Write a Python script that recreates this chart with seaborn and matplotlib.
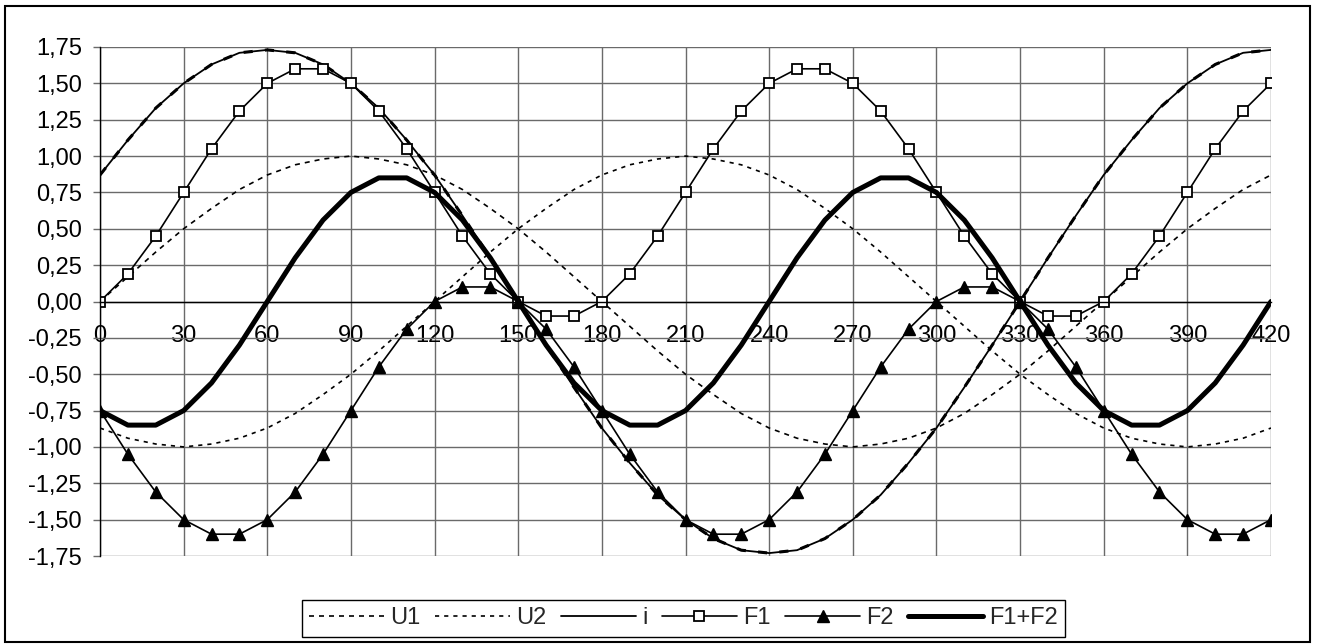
import matplotlib
matplotlib.use("Agg")
import matplotlib.pyplot as plt
from matplotlib.patches import Rectangle
import seaborn as sns

# ---------------- data ----------------
angle = [0, 10, 20, 30, 40, 50, 60, 70, 80, 90, 100, 110, 120, 130, 140, 150, 160,
         170, 180, 190, 200, 210, 220, 230, 240, 250, 260, 270, 280, 290, 300, 310,
         320, 330, 340, 350, 360, 370, 380, 390, 400, 410, 420]

U1 = [0.00, 0.17, 0.34, 0.50, 0.64, 0.77, 0.87, 0.94, 0.98, 1.00, 0.98, 0.94, 0.87,
      0.77, 0.64, 0.50, 0.34, 0.17, 0.00, -0.17, -0.34, -0.50, -0.64, -0.77, -0.87,
      -0.94, -0.98, -1.00, -0.98, -0.94, -0.87, -0.77, -0.64, -0.50, -0.34, -0.17,
      0.00, 0.17, 0.34, 0.50, 0.64, 0.77, 0.87]

U2 = [-0.87, -0.94, -0.98, -1.00, -0.98, -0.94, -0.87, -0.77, -0.64, -0.50, -0.34,
      -0.17, 0.00, 0.17, 0.34, 0.50, 0.64, 0.77, 0.87, 0.94, 0.98, 1.00, 0.98, 0.94,
      0.87, 0.77, 0.64, 0.50, 0.34, 0.17, 0.00, -0.17, -0.34, -0.50, -0.64, -0.77,
      -0.87, -0.94, -0.98, -1.00, -0.98, -0.94, -0.87]

I = [0.87, 1.11, 1.33, 1.50, 1.63, 1.71, 1.73, 1.71, 1.63, 1.50, 1.33, 1.11, 0.87,
     0.59, 0.30, 0.00, -0.30, -0.59, -0.87, -1.11, -1.33, -1.50, -1.63, -1.71, -1.73,
     -1.71, -1.63, -1.50, -1.33, -1.11, -0.87, -0.59, -0.30, 0.00, 0.30, 0.59, 0.87,
     1.11, 1.33, 1.50, 1.63, 1.71, 1.73]

F1 = [0.00, 0.19, 0.45, 0.75, 1.05, 1.31, 1.50, 1.60, 1.60, 1.50, 1.31, 1.05, 0.75,
      0.45, 0.19, 0.00, -0.10, -0.10, 0.00, 0.19, 0.45, 0.75, 1.05, 1.31, 1.50, 1.60,
      1.60, 1.50, 1.31, 1.05, 0.75, 0.45, 0.19, 0.00, -0.10, -0.10, 0.00, 0.19, 0.45,
      0.75, 1.05, 1.31, 1.50]

F2 = [-0.75, -1.05, -1.31, -1.50, -1.60, -1.60, -1.50, -1.31, -1.05, -0.75, -0.45,
      -0.19, 0.00, 0.10, 0.10, 0.00, -0.19, -0.45, -0.75, -1.05, -1.31, -1.50, -1.60,
      -1.60, -1.50, -1.31, -1.05, -0.75, -0.45, -0.19, 0.00, 0.10, 0.10, 0.00, -0.19,
      -0.45, -0.75, -1.05, -1.31, -1.50, -1.60, -1.60, -1.50]

F1F2 = [-0.75, -0.85, -0.85, -0.75, -0.56, -0.30, 0.00, 0.30, 0.56, 0.75, 0.85, 0.85,
        0.75, 0.56, 0.30, 0.00, -0.30, -0.56, -0.75, -0.85, -0.85, -0.75, -0.56, -0.30,
        0.00, 0.30, 0.56, 0.75, 0.85, 0.85, 0.75, 0.56, 0.30, 0.00, -0.30, -0.56, -0.75,
        -0.85, -0.85, -0.75, -0.56, -0.30, 0.00]

x_ticks = [0, 30, 60, 90, 120, 150, 180, 210, 240, 270, 300, 330, 360, 390, 420]
y_ticks = [-1.75, -1.50, -1.25, -1.00, -0.75, -0.50, -0.25, 0.00, 0.25, 0.50, 0.75,
           1.00, 1.25, 1.50, 1.75]

# ---------------- style ----------------
sns.set_theme(style="white")
plt.rcParams['font.family'] = ['Liberation Sans', 'DejaVu Sans']
FS = 17

fig = plt.figure(figsize=(13.21, 6.44), dpi=100)
ax = fig.add_axes([100 / 1321, 1 - 556 / 644, (1271 - 100) / 1321, (556 - 47) / 644])
ax.set_facecolor("white")

# grid
ax.set_xticks(x_ticks)
ax.set_yticks(y_ticks)
ax.grid(True, color="#6a6a6a", linewidth=1.0)
ax.set_axisbelow(True)

# series
sns.lineplot(x=angle, y=U1, ax=ax, color="black", linewidth=1.2,
             linestyle=(0, (3, 3)), label="U1", errorbar=None, sort=False)
sns.lineplot(x=angle, y=U2, ax=ax, color="black", linewidth=1.2,
             linestyle=(0, (2.5, 3)), label="U2", errorbar=None, sort=False)
sns.lineplot(x=angle, y=I, ax=ax, color="black", linewidth=2.2,
             linestyle=(0, (3, 4)), label="_nolegend_", errorbar=None, sort=False)
sns.lineplot(x=angle, y=I, ax=ax, color="black", linewidth=1.3,
             linestyle="-", label="i", errorbar=None, sort=False)
sns.lineplot(x=angle, y=F1, ax=ax, color="black", linewidth=1.2, linestyle="-",
             marker="s", markersize=7, markerfacecolor="white",
             markeredgecolor="black", markeredgewidth=1.3, label="F1",
             errorbar=None, sort=False)
sns.lineplot(x=angle, y=F2, ax=ax, color="black", linewidth=1.2, linestyle="-",
             marker="^", markersize=9, markerfacecolor="black",
             markeredgecolor="black", markeredgewidth=1.0, label="F2",
             errorbar=None, sort=False)
sns.lineplot(x=angle, y=F1F2, ax=ax, color="black", linewidth=3.6, linestyle="-",
             label="F1+F2", errorbar=None, sort=False)

ax.set_xlim(0, 420)
ax.set_ylim(-1.75, 1.75)
ax.set_xlabel("")
ax.set_ylabel("")

# axes/spines
for s in ["top", "right"]:
    ax.spines[s].set_visible(False)
ax.spines["left"].set_color("black")
ax.spines["left"].set_linewidth(1.0)
ax.spines["bottom"].set_position(("data", 0))
ax.spines["bottom"].set_color("black")
ax.spines["bottom"].set_linewidth(1.0)

ax.set_yticklabels([f"{v:.2f}".replace(".", ",") for v in y_ticks], fontsize=FS)
ax.set_xticklabels([str(v) for v in x_ticks], fontsize=FS)
ax.tick_params(axis="y", which="major", left=True, direction="out", length=5,
               width=1.0, color="#6a6a6a", pad=8, labelcolor="black")
ax.tick_params(axis="x", which="major", bottom=True, direction="out", length=0,
               pad=17, labelcolor="black")

# legend
leg = ax.legend(loc="center", bbox_to_anchor=((303 + 1064) / 2 / 1321, 1 - 618.5 / 644),
                bbox_transform=fig.transFigure, ncol=6, fontsize=FS, frameon=True,
                fancybox=False, shadow=False, framealpha=1, edgecolor="black",
                handlelength=3.2, handletextpad=0.25, columnspacing=0.6,
                borderpad=0.3, borderaxespad=0, numpoints=1)
leg.get_frame().set_linewidth(1.0)

# chart area border
fig.patches.append(Rectangle((5 / 1321, 2 / 644), 1305 / 1321, 636 / 644,
                             transform=fig.transFigure, fill=False,
                             edgecolor="black", linewidth=1.5))

fig.savefig("out.png", dpi=100, facecolor="white")
